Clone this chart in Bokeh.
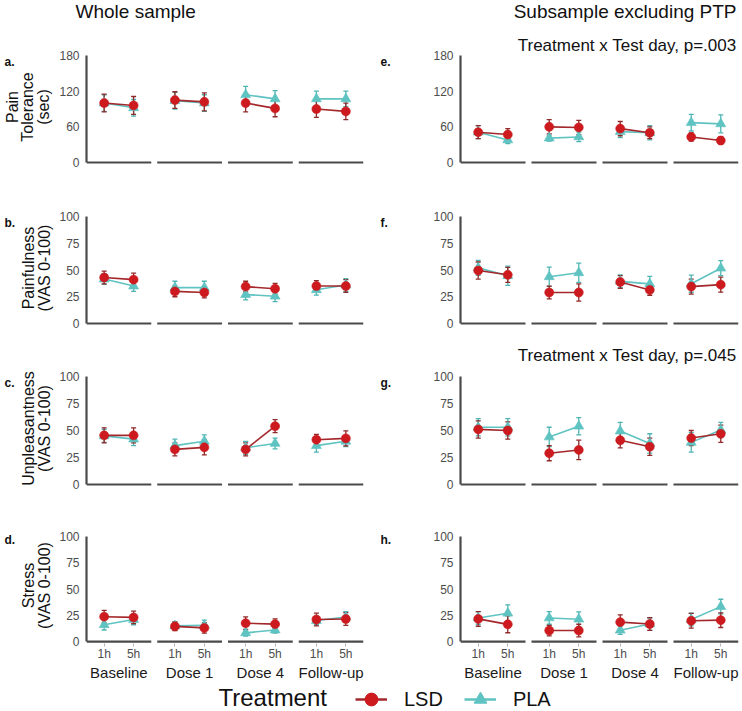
import numpy as np
from bokeh.plotting import figure
from bokeh.models import (ColumnDataSource, FactorRange, Range1d, Label, Whisker,
                          TeeHead, Legend, LegendItem)
from bokeh.transform import dodge
from bokeh.layouts import column, row
from bokeh.embed import file_html
from bokeh.resources import INLINE

# ---------------- data ----------------
days = ["Baseline", "Dose 1", "Dose 4", "Follow-up"]
times = ["1h", "5h"]

# order: Baseline 1h, 5h, Dose 1 1h, 5h, Dose 4 1h, 5h, Follow-up 1h, 5h
tol_whole_lsd = [100, 96, 105, 102, 100, 91, 90, 86]
tol_whole_lsd_se = [15, 15, 14, 15, 15, 14, 14, 14]
tol_whole_pla = [100, 92, 104, 100, 114, 107, 107, 107]
tol_whole_pla_se = [14, 14, 14, 14, 14, 14, 13, 13]

tol_sub_lsd = [51, 47, 60, 59, 57, 50, 43, 37]
tol_sub_lsd_se = [11, 10, 12, 12, 12, 10, 7, 6]
tol_sub_pla = [51, 38, 41, 43, 52, 50, 67, 65]
tol_sub_pla_se = [11, 6, 5, 8, 10, 12, 14, 15]

pain_whole_lsd = [43, 41, 30, 29, 34.5, 32.5, 35, 35]
pain_whole_lsd_se = [6, 6, 5, 5, 5, 5, 5, 6]
pain_whole_pla = [41.5, 35, 33.5, 33.5, 27, 25.5, 31.5, 36]
pain_whole_pla_se = [5, 5, 6, 6, 5, 5, 5, 6]

pain_sub_lsd = [49.5, 45.5, 29, 29, 38.8, 31.4, 34.5, 36.3]
pain_sub_lsd_se = [8, 7, 6, 8, 6, 5, 7, 7]
pain_sub_pla = [52, 44.6, 43.7, 47.4, 39.4, 37, 37.2, 51.7]
pain_sub_pla_se = [7, 9, 9, 9, 6, 7, 8, 7]

unpl_whole_lsd = [45.5, 45.5, 32.5, 34.4, 32.5, 54, 41.5, 42.7]
unpl_whole_lsd_se = [7, 7, 6, 7, 6, 6, 5, 7]
unpl_whole_pla = [45, 42, 36, 40, 34, 38, 36, 40]
unpl_whole_pla_se = [6, 6, 6, 6, 6, 5, 6, 5]

unpl_sub_lsd = [51, 50, 29, 32, 41, 35, 43, 47]
unpl_sub_lsd_se = [8, 8, 7, 9, 7, 8, 7, 8]
unpl_sub_pla = [53, 53, 44, 54, 49.5, 38, 39, 50.5]
unpl_sub_pla_se = [8, 8, 9, 8, 8, 9, 9, 7]

stress_whole_lsd = [23.7, 23, 14.5, 13, 17.5, 16.6, 21, 21.5]
stress_whole_lsd_se = [6, 6, 4, 5, 6, 5, 6, 6]
stress_whole_pla = [16, 21, 15, 15.4, 8.3, 11, 20, 23.4]
stress_whole_pla_se = [5, 5, 4, 5, 3, 3, 4, 5]

stress_sub_lsd = [21.6, 16.4, 10.5, 10.5, 18.5, 16.7, 19.8, 20.4]
stress_sub_lsd_se = [7, 8, 5, 6, 7, 6, 7, 7]
stress_sub_pla = [22.5, 27, 22.5, 21.3, 10.8, 16.7, 21, 33.3]
stress_sub_pla_se = [6, 8, 6, 7, 4, 6, 6, 7]

tol_ticks = [0, 60, 120, 180]
vas_ticks = [0, 25, 50, 75, 100]

# ---------------- style / layout ----------------
FONT = "Liberation Sans"
LSD_FILL = "#CC1A1F"
LSD_LINE = "#A3272B"
LSD_ERR = "#8E2A2A"
PLA_FILL = "#5EC3C1"
PLA_LINE = "#5EC3C1"
PLA_ERR = "#4FB5B3"
AXIS_COL = "#4a4a4a"
TICK_TXT = "#4d4d4d"
TXT = "#111111"

GROUP_PAD = 0.403
TOTAL_UNITS = 4 * 2 + 3 * GROUP_PAD
RANGE_PAD = 0.2 / TOTAL_UNITS

GUT_L, GUT_R = 56, 62
COLS = {"L": dict(width=312, bl=27, fw=280, x0=56),
        "R": dict(width=311, bl=28, fw=280, x0=430)}
# row: (top, y=max line, y=0 line, bottom) in page pixels
ROWS = [(34, 55, 162, 190), (190, 216, 323, 345), (345, 376, 484, 506), (506, 537, 645, 683)]
HEADER_H = 34
LEG_H = 27

factors = [(d, t) for d in days for t in times]


def text_fig(width, height, btop=0, bbot=0):
    f = figure(width=width, height=height, x_range=Range1d(0, 1), y_range=Range1d(0, 1),
               x_axis_type=None, y_axis_type=None, toolbar_location=None,
               output_backend="svg", min_border_left=0, min_border_right=0,
               min_border_top=btop, min_border_bottom=bbot)
    f.outline_line_color = None
    f.grid.visible = False
    return f


def lab(f, text, x, y, size, align="left", bold=False, angle=0.0, color=TXT):
    # y (or x for rotated text) is the vertical middle of the text line
    f.add_layout(Label(x=x, y=y, x_units="screen", y_units="screen", text=text,
                       angle=angle, text_font=FONT, text_font_size=size,
                       text_font_style="bold" if bold else "normal",
                       text_color=color, text_align=align, text_baseline="middle"))


def make_panel(col, ri, ymax, yticks, lsd, lsd_se, pla, pla_se, titles=(), bottom=False):
    T, Ytop, Y0, B = ROWS[ri]
    c = COLS[col]
    width, bl = c["width"], c["bl"]
    br = width - bl - c["fw"]
    fb = Y0 + 2
    u = ymax / (Y0 - Ytop)
    xr = FactorRange(factors=factors, factor_padding=0, group_padding=GROUP_PAD,
                     range_padding=RANGE_PAD, range_padding_units="percent")
    p = figure(width=width, height=B - T, x_range=xr,
               y_range=Range1d(-2 * u, ymax + (Ytop - T) * u),
               toolbar_location=None, output_backend="svg",
               min_border_left=bl, min_border_right=br,
               min_border_top=0, min_border_bottom=B - fb)
    p.outline_line_color = None
    p.grid.visible = False

    p.yaxis.ticker = yticks
    p.yaxis.bounds = (0, ymax)
    p.yaxis.axis_line_color = AXIS_COL
    p.yaxis.axis_line_width = 2.2
    p.yaxis.major_tick_line_color = None
    p.yaxis.minor_tick_line_color = None
    p.yaxis.major_tick_out = 0
    p.yaxis.major_tick_in = 0
    p.yaxis.major_label_standoff = 7
    p.yaxis.major_label_text_font = FONT
    p.yaxis.major_label_text_font_size = "12px"
    p.yaxis.major_label_text_color = TICK_TXT

    xa = p.xaxis[0]
    if bottom:
        xa.axis_line_color = None
        xa.separator_line_color = None
        xa.major_tick_line_color = "#b5b5b5"
        xa.major_tick_out = 3
        xa.major_tick_in = 0
        xa.minor_tick_line_color = None
        xa.major_label_standoff = 0
        xa.major_label_text_font = FONT
        xa.major_label_text_font_size = "12px"
        xa.major_label_text_color = TICK_TXT
        xa.group_text_font = FONT
        xa.group_text_font_size = "15px"
        xa.group_text_font_style = "normal"
        xa.group_text_color = "#1a1a1a"
    else:
        xa.visible = False

    # facet baselines
    fsrc = ColumnDataSource(dict(a=[(d, "1h") for d in days],
                                 b=[(d, "5h") for d in days],
                                 y=[0] * len(days)))
    p.segment(x0=dodge("a", -0.6, range=xr), x1=dodge("b", 0.6, range=xr),
              y0="y", y1="y", source=fsrc, line_color=AXIS_COL, line_width=2.2)

    for vals, se, fill, lcol, ecol, marker, msize in (
            (pla, pla_se, PLA_FILL, PLA_LINE, PLA_ERR, "triangle", 10),
            (lsd, lsd_se, LSD_FILL, LSD_LINE, LSD_ERR, "circle", 9)):
        src = ColumnDataSource(dict(x=factors, y=vals,
                                    lo=[v - s for v, s in zip(vals, se)],
                                    hi=[v + s for v, s in zip(vals, se)]))
        lsrc = ColumnDataSource(dict(x0=factors[0::2], x1=factors[1::2],
                                     y0=vals[0::2], y1=vals[1::2]))
        p.segment(x0="x0", y0="y0", x1="x1", y1="y1", source=lsrc,
                  line_color=lcol, line_width=1.6)
        w = Whisker(base="x", lower="lo", upper="hi", source=src,
                    dimension="height", line_color=ecol, line_width=1.3,
                    upper_head=TeeHead(size=5, line_color=ecol, line_width=1.3),
                    lower_head=TeeHead(size=5, line_color=ecol, line_width=1.3))
        p.add_layout(w)
        p.scatter(x="x", y="y", source=src, marker=marker, size=msize,
                  fill_color=fill, line_color=fill, line_alpha=0.6)

    for txt, xpage, ymid, size in titles:
        lab(p, txt, xpage - (c["x0"] + bl), fb - ymid, size, align="right")
    return p


def gutter(col, ri, letter, ylines=()):
    T, Ytop, Y0, B = ROWS[ri]
    fb = Y0 + 2
    w = GUT_L if col == "L" else GUT_R
    x0 = 0 if col == "L" else 368
    g = text_fig(w, B - T, btop=0, bbot=B - fb)
    lab(g, letter, (4 if col == "L" else 380) - x0, fb - (Ytop + 6), "12px", bold=True)
    yc = fb - ((Ytop + Y0) / 2 - 2)
    for txt, xm in ylines:
        lab(g, txt, xm - x0, yc, "16px", align="center", angle=np.pi / 2)
    return g


vas_lines = lambda first: [(first, 27.5), ("(VAS 0-100)", 44)]

# header
hdr = text_fig(741, HEADER_H)
lab(hdr, "Whole sample", 75, HEADER_H - 11, "19px")
lab(hdr, "Subsample excluding PTP", 736, HEADER_H - 11, "19px", align="right")

pa = make_panel("L", 0, 180, tol_ticks, tol_whole_lsd, tol_whole_lsd_se,
                tol_whole_pla, tol_whole_pla_se)
pe = make_panel("R", 0, 180, tol_ticks, tol_sub_lsd, tol_sub_lsd_se,
                tol_sub_pla, tol_sub_pla_se,
                titles=[("Treatment x Test day, p=.003", 734, 44.5, "17px")])
pb = make_panel("L", 1, 100, vas_ticks, pain_whole_lsd, pain_whole_lsd_se,
                pain_whole_pla, pain_whole_pla_se)
pf = make_panel("R", 1, 100, vas_ticks, pain_sub_lsd, pain_sub_lsd_se,
                pain_sub_pla, pain_sub_pla_se)
pc = make_panel("L", 2, 100, vas_ticks, unpl_whole_lsd, unpl_whole_lsd_se,
                unpl_whole_pla, unpl_whole_pla_se)
pg = make_panel("R", 2, 100, vas_ticks, unpl_sub_lsd, unpl_sub_lsd_se,
                unpl_sub_pla, unpl_sub_pla_se,
                titles=[("Treatment x Test day, p=.045", 734, 354.5, "17px")])
pd_ = make_panel("L", 3, 100, vas_ticks, stress_whole_lsd, stress_whole_lsd_se,
                 stress_whole_pla, stress_whole_pla_se, bottom=True)
ph = make_panel("R", 3, 100, vas_ticks, stress_sub_lsd, stress_sub_lsd_se,
                stress_sub_pla, stress_sub_pla_se, bottom=True)

ga = gutter("L", 0, "a.", [("Pain", 11.5), ("Tolerance", 27), ("(sec)", 42.5)])
ge = gutter("R", 0, "e.")
gb = gutter("L", 1, "b.", vas_lines("Painfulness"))
gf = gutter("R", 1, "f.")
gc = gutter("L", 2, "c.", vas_lines("Unpleasantness"))
gg = gutter("R", 2, "g.")
gd = gutter("L", 3, "d.", vas_lines("Stress"))
gh = gutter("R", 3, "h.")

# ---------------- legend strip ----------------
lf = text_fig(741, LEG_H)
nan = [float("nan")]
r1 = lf.line(x=nan, y=nan, line_color=LSD_LINE, line_width=2.5)
r2 = lf.scatter(x=nan, y=nan, marker="circle", size=13, fill_color=LSD_FILL, line_color=LSD_FILL)
r3 = lf.line(x=nan, y=nan, line_color=PLA_LINE, line_width=2.5)
r4 = lf.scatter(x=nan, y=nan, marker="triangle", size=13, fill_color=PLA_FILL, line_color=PLA_FILL)
leg = Legend(items=[LegendItem(label="LSD", renderers=[r1, r2]),
                    LegendItem(label="PLA", renderers=[r3, r4])],
             orientation="horizontal", location=(355, -6),
             glyph_width=32, glyph_height=34, label_standoff=17, spacing=21,
             padding=0, margin=0, border_line_color=None, background_fill_alpha=0,
             label_text_font=FONT, label_text_font_size="20px", label_text_color=TXT)
lf.add_layout(leg, "center")
lab(lf, "Treatment", 218, 13.5, "24px")

layout = column(hdr,
                row(ga, pa, ge, pe),
                row(gb, pb, gf, pf),
                row(gc, pc, gg, pg),
                row(gd, pd_, gh, ph),
                lf)

with open("out.html", "w") as fh:
    fh.write(file_html(layout, INLINE, title="LSD pain"))
